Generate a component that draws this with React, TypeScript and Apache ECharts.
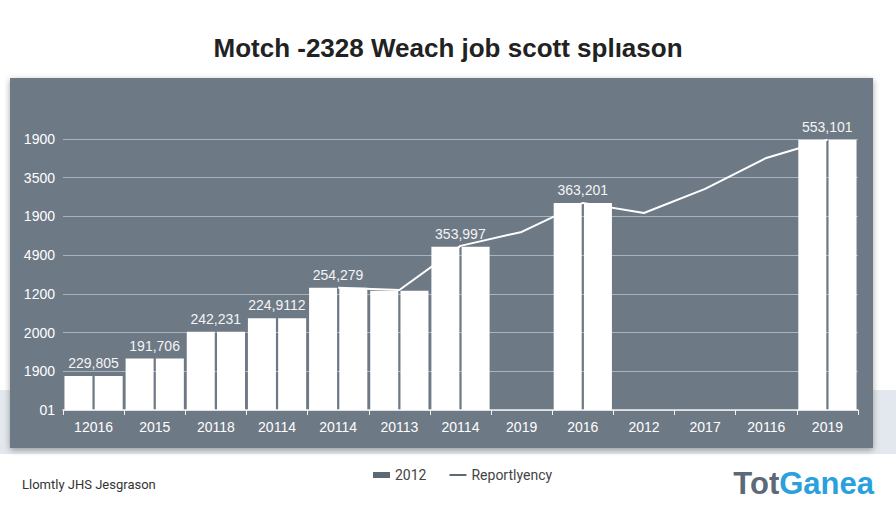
import React, { useEffect, useRef } from "react";
import * as echarts from "echarts";

const categories = ["12016", "2015", "20118", "20114", "20114", "20113", "20114", "2019", "2016", "2012", "2017", "20116", "2019"];
const yTickLabels = ["01", "1900", "2000", "1200", "4900", "1900", "3500", "1900"];
const barValues: (number | null)[] = [0.88, 1.33, 2.02, 2.37, 3.16, 3.08, 4.22, null, 5.35, null, null, null, 6.98];
const barLabels = ["229,805", "191,706", "242,231", "224,9112", "254,279", "", "353,997", "", "363,201", "", "", "", "553,101"];
const lineValues: (number | null)[] = [null, null, null, null, 3.16, 3.1, 4.24, 4.6, 5.35, 5.09, 5.71, 6.51, 6.98];

const titleText = "Motch -2328 Weach job scott splıason";
const footnoteText = "Llomtly JHS Jesgrason";
const barSeriesName = "2012";
const lineSeriesName = "Reportlyency";

export default function App() {
  const ref = useRef<HTMLDivElement>(null);
  useEffect(() => {
    if (!ref.current) return;
    const chart = echarts.init(ref.current, null, { renderer: "svg" });
    const font = "'Liberation Sans', Arial, sans-serif";
    chart.setOption({
      animation: false,
      backgroundColor: "#ffffff",
      textStyle: { fontFamily: font },
      title: {
        text: titleText,
        left: "center",
        top: 30,
        textStyle: { fontSize: 26, fontWeight: "bold", color: "#222222", fontFamily: font },
      },
      graphic: [
        {
          type: "rect",
          z: -10,
          silent: true,
          shape: { x: 0, y: 390, width: 896, height: 64 },
          style: { fill: "#e3e8ee" },
        },
        {
          type: "rect",
          z: -5,
          silent: true,
          shape: { x: 10, y: 78, width: 863, height: 370 },
          style: { fill: "#6e7986", shadowBlur: 6, shadowColor: "rgba(0,0,0,0.35)", shadowOffsetY: 2 },
        },
        {
          type: "text",
          left: 22,
          top: 478,
          style: { text: footnoteText, fontSize: 13, fill: "#333333", fontFamily: "Roboto, sans-serif" },
        },
        {
          type: "text",
          right: 22,
          top: 468,
          style: {
            text: "{a|Tot}{b|Ganea}",
            rich: {
              a: { fontSize: 31, fontWeight: "bold", fill: "#5d6976", fontFamily: font },
              b: { fontSize: 31, fontWeight: "bold", fill: "#2aa0dc", fontFamily: font },
            },
          },
        },
      ],
      legend: {
        bottom: 25,
        left: 368,
        itemGap: 22,
        itemWidth: 17,
        itemHeight: 6,
        textStyle: { color: "#444444", fontSize: 14, fontFamily: "Roboto, sans-serif" },
        data: [
          { name: barSeriesName, icon: "rect", itemStyle: { color: "#5d6875" } },
          { name: lineSeriesName, itemStyle: { color: "#5d6875", opacity: 0 }, lineStyle: { color: "#5d6875", width: 2 } },
        ],
      },
      grid: { left: 63, right: 38, top: 139, bottom: 102, containLabel: false },
      xAxis: {
        type: "category",
        data: categories,
        axisLine: { lineStyle: { color: "#f2f2f2", width: 1.5 } },
        axisTick: { show: true, lineStyle: { color: "#f2f2f2" }, length: 5 },
        axisLabel: { color: "#ffffff", fontSize: 14, margin: 10 },
      },
      yAxis: {
        type: "value",
        min: 0,
        max: 7,
        interval: 1,
        axisLine: { show: false },
        axisTick: { show: false },
        axisLabel: {
          color: "#ffffff",
          fontSize: 14,
          margin: 8,
          formatter: (v: number) => yTickLabels[Math.round(v)] ?? "",
        },
        splitLine: { lineStyle: { color: "#aab3bd", width: 1.2 } },
      },
      series: [
        {
          name: barSeriesName,
          type: "bar",
          data: barValues,
          barWidth: 28,
          barGap: "8%",
          itemStyle: { color: "#ffffff" },
          label: {
            show: true,
            position: "top",
            offset: [15, 0],
            distance: 6,
            color: "#f4f4f4",
            fontSize: 14,
            formatter: (p: any) => barLabels[p.dataIndex] ?? "",
          },
        },
        {
          name: barSeriesName,
          type: "bar",
          data: barValues,
          barWidth: 28,
          barGap: "8%",
          itemStyle: { color: "#ffffff" },
        },
        {
          name: lineSeriesName,
          type: "line",
          data: lineValues,
          showSymbol: false,
          symbol: "none",
          z: 5,
          lineStyle: { color: "#ffffff", width: 2 },
          itemStyle: { color: "#ffffff" },
        },
      ],
    });
    return () => chart.dispose();
  }, []);
  return <div ref={ref} style={{ width: 896, height: 512, position: "absolute", left: 0, top: 0 }} />;
}
